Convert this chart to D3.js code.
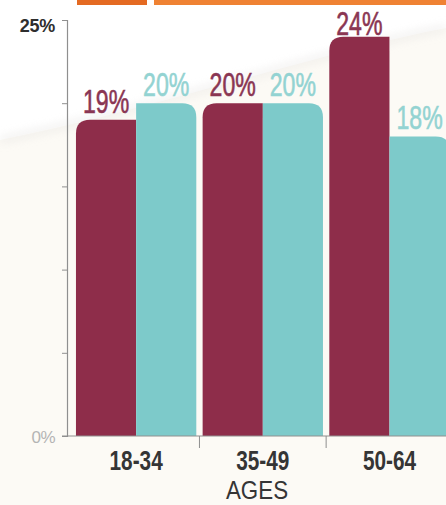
<!DOCTYPE html>
<html>
<head>
<meta charset="utf-8">
<script src="https://cdn.jsdelivr.net/npm/d3@7"></script>
<style>
  html, body { margin: 0; padding: 0; background: #fcfaf5; }
  svg { display: block; }
</style>
</head>
<body>
<svg id="chart" width="446" height="505"></svg>
<script>
// Age groups and the two series shown side by side in each group
const ageGroups = ["18-34", "35-49", "50-64"];
const seriesA = [19, 20, 24];   // maroon bars
const seriesB = [20, 20, 18];   // teal bars
const yTickValues = [0, 5, 10, 15, 20, 25];
const yTickLabels = ["0%", "", "", "", "", "25%"];
const axisTitle = "AGES";

const W = 446, H = 505;
const colorA = "#8e2d4a", colorB = "#7dcaca";
const labelA = "#8a3653", labelB = "#93d3d2";
const font = "'Liberation Sans', Arial, sans-serif";

const svg = d3.select("#chart");

// Page background: white sheet above a soft curved fold, cream below
const defs = svg.append("defs");
defs.append("filter").attr("id", "soft")
  .append("feGaussianBlur").attr("stdDeviation", 5);
svg.append("rect").attr("width", W).attr("height", H).attr("fill", "#fcfaf5");
svg.append("path")
  .attr("d", `M0,0 L${W},0 L${W},28 C330,50 150,110 0,140 Z`)
  .attr("fill", "#ffffff");
svg.append("path")
  .attr("d", `M0,140 C150,110 330,50 ${W},28`)
  .attr("fill", "none").attr("stroke", "#e6e4e2").attr("stroke-width", 5)
  .attr("filter", "url(#soft)").attr("opacity", 0.7);

// Orange header strip
svg.append("rect").attr("x", 77).attr("y", 0).attr("width", 70).attr("height", 5).attr("fill", "#e46a22");
svg.append("rect").attr("x", 154).attr("y", 0).attr("width", W - 154).attr("height", 5).attr("fill", "#ef8233");

const y = d3.scaleLinear().domain([0, 25]).range([436, 20]);
const x0 = d3.scaleBand().domain(ageGroups).range([72.8, 452.8]).paddingInner(0.05).paddingOuter(0.025);
const x1 = d3.scaleBand().domain(["A", "B"]).range([0, x0.bandwidth()]);

// Bars: outer top corners rounded, inner corners square
const r = 14;
function barPath(xL, w, yTop, yBot, roundLeft) {
  const rr = Math.min(r, yBot - yTop);
  if (roundLeft) {
    return `M${xL},${yBot} L${xL},${yTop + rr} Q${xL},${yTop} ${xL + rr},${yTop} L${xL + w},${yTop} L${xL + w},${yBot} Z`;
  }
  return `M${xL},${yBot} L${xL},${yTop} L${xL + w - rr},${yTop} Q${xL + w},${yTop} ${xL + w},${yTop + rr} L${xL + w},${yBot} Z`;
}

const rows = ageGroups.map((g, i) => ({ g, a: seriesA[i], b: seriesB[i] }));
const groups = svg.append("g").selectAll("g").data(rows).join("g")
  .attr("transform", d => `translate(${x0(d.g)},0)`);

groups.append("path")
  .attr("d", d => barPath(x1("A"), x1.bandwidth(), y(d.a), y(0), true))
  .attr("fill", colorA);
groups.append("path")
  .attr("d", d => barPath(x1("B"), x1.bandwidth(), y(d.b), y(0), false))
  .attr("fill", colorB);

// Value labels above the bars (kept below the header strip), condensed
function labelY(v) { return Math.max(y(v) - 7, 35); }
groups.append("text")
  .attr("transform", d => `translate(${x1("A") + x1.bandwidth() / 2},${labelY(d.a)}) scale(0.7,1)`)
  .attr("text-anchor", "middle").attr("font-family", font).attr("font-size", 33)
  .attr("fill", labelA).attr("stroke", labelA).attr("stroke-width", 0.6)
  .text(d => d.a + "%");
groups.append("text")
  .attr("transform", d => `translate(${x1("B") + x1.bandwidth() / 2},${labelY(d.b)}) scale(0.7,1)`)
  .attr("text-anchor", "middle").attr("font-family", font).attr("font-size", 33)
  .attr("fill", labelB).attr("stroke", labelB).attr("stroke-width", 0.6)
  .text(d => d.b + "%");

// Y axis with minor ticks; only the ends are labelled
const yAxis = d3.axisLeft(y).tickValues(yTickValues)
  .tickFormat((d, i) => yTickLabels[i]).tickSize(5).tickPadding(7);
const gy = svg.append("g").attr("transform", "translate(67,0)").call(yAxis);
gy.select(".domain").attr("stroke", "#8f8f8f").attr("stroke-width", 1.2);
gy.selectAll(".tick line").attr("stroke", "#8f8f8f");
gy.selectAll(".tick text")
  .attr("font-family", font)
  .attr("font-size", d => d === 25 ? 18 : 17)
  .attr("font-weight", d => d === 25 ? "bold" : "normal")
  .attr("letter-spacing", d => d === 25 ? -0.3 : -0.5)
  .attr("fill", d => d === 25 ? "#2e2e2e" : "#b4b4b4")
  .attr("dy", d => d === 25 ? "0.62em" : "0.4em");

// Baseline and group separators
svg.append("line").attr("x1", 62).attr("x2", W).attr("y1", y(0)).attr("y2", y(0))
  .attr("stroke", "#8f8f8f").attr("stroke-width", 1.2);
const seps = ageGroups.slice(1).map(g => x0(g) - x0.step() * x0.paddingInner() / 2);
svg.append("g").selectAll("line").data(seps).join("line")
  .attr("x1", d => d).attr("x2", d => d).attr("y1", y(0)).attr("y2", y(0) + 12)
  .attr("stroke", "#8f8f8f").attr("stroke-width", 1);

// Category labels and axis title
svg.append("g").selectAll("text").data(ageGroups).join("text")
  .attr("transform", d => `translate(${x0(d) + x0.bandwidth() / 2},470) scale(0.77,1)`)
  .attr("text-anchor", "middle").attr("font-family", font).attr("font-weight", "bold")
  .attr("font-size", 27).attr("fill", "#353535").text(d => d);

svg.append("text")
  .attr("transform", "translate(257,499) scale(0.86,1)")
  .attr("text-anchor", "middle").attr("font-family", font)
  .attr("font-size", 26).attr("fill", "#353535").text(axisTitle);
</script>
</body>
</html>
